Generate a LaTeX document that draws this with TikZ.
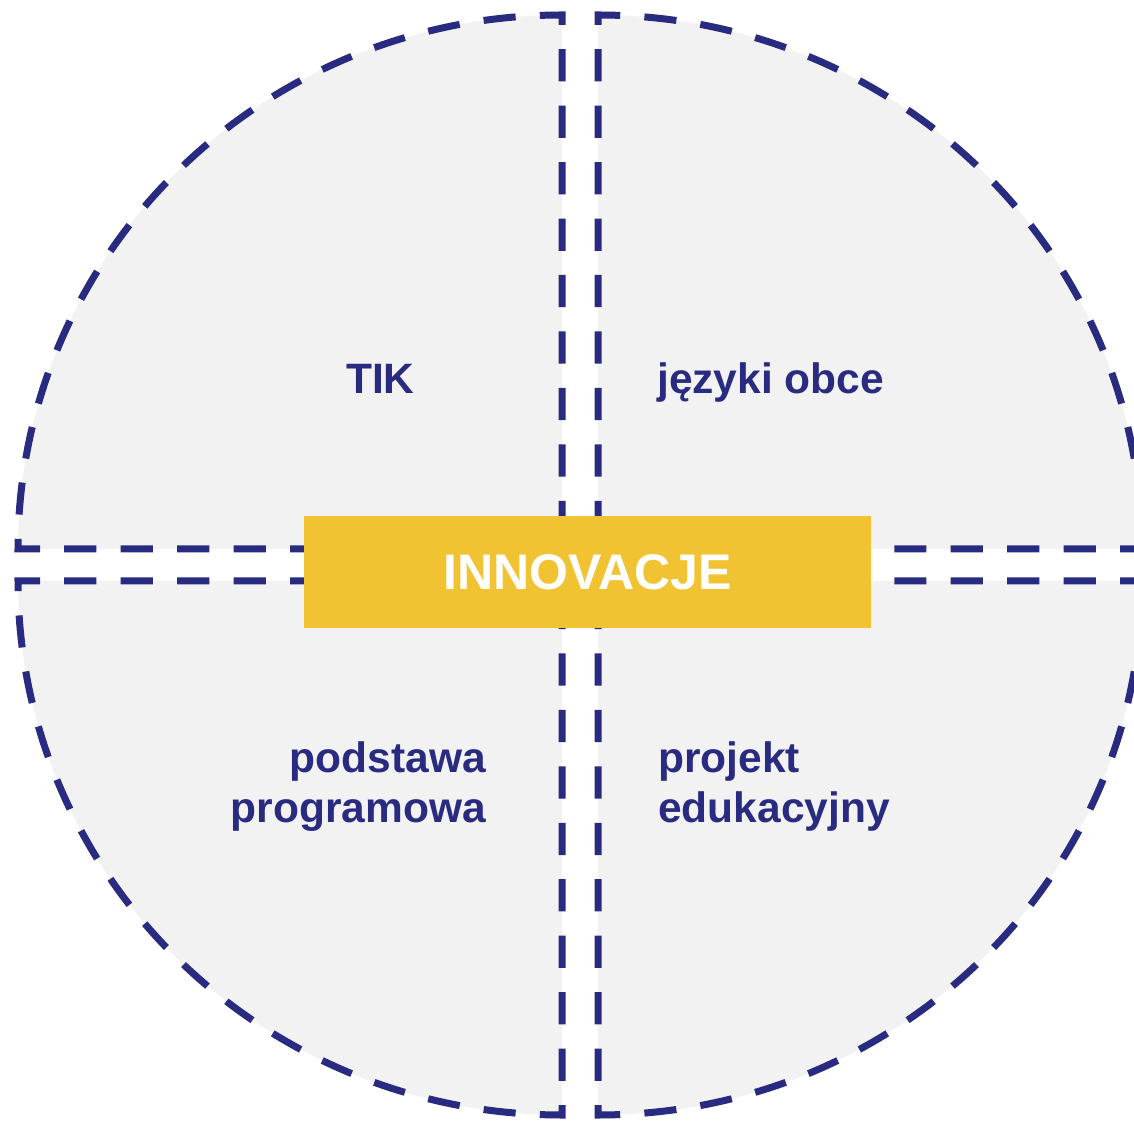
\documentclass[tikz,border=0pt]{standalone}
\usepackage{fontspec}
\setmainfont{Liberation Sans}
\definecolor{navy}{RGB}{41,43,128}
\definecolor{panel}{RGB}{242,242,242}
\definecolor{gold}{RGB}{241,195,50}
\begin{document}
\begin{tikzpicture}[x=1pt,y=1pt,
  quad/.style={fill=panel, draw=navy, line width=7pt,
    dash pattern=on 32.2pt off 24.24pt, dash phase=42.4pt, line join=miter},
  lbl/.style={text=navy, font=\fontsize{42.5pt}{50pt}\selectfont\bfseries, inner sep=0pt},
  core/.style={fill=gold, text=white, minimum width=567pt, minimum height=112pt,
    inner sep=0pt, font=\fontsize{50pt}{60pt}\selectfont\bfseries}]
\useasboundingbox (0,0) rectangle (1134,1120);
\clip (0,0) rectangle (1134,1120);
% quadrants
\draw[quad] (562,571) -- (18,571) arc[start angle=180, end angle=90, x radius=544pt, y radius=534pt] -- cycle;
\draw[quad] (598,571) -- (1142,571) arc[start angle=0, end angle=90, x radius=544pt, y radius=534pt] -- cycle;
\draw[quad] (562,539) -- (18,539) arc[start angle=180, end angle=270, x radius=544pt, y radius=534pt] -- cycle;
\draw[quad] (598,539) -- (1142,539) arc[start angle=0, end angle=-90, x radius=544pt, y radius=534pt] -- cycle;
% centre
\node[core] (core) at (587.5,548) {INNOVACJE};
% labels
\node[lbl, anchor=base west] (tik) at (346,726) {TIK};
\node[lbl, anchor=base west] (jezyki) at (657,726) {języki obce};
\node[lbl, anchor=base east] (podstawa) at (486,348) {podstawa};
\node[lbl, anchor=base east] (programowa) at (486,298) {programowa};
\node[lbl, anchor=base west] (projekt) at (658,348) {projekt};
\node[lbl, anchor=base west] (edukacyjny) at (658,298) {edukacyjny};
\end{tikzpicture}
\end{document}
